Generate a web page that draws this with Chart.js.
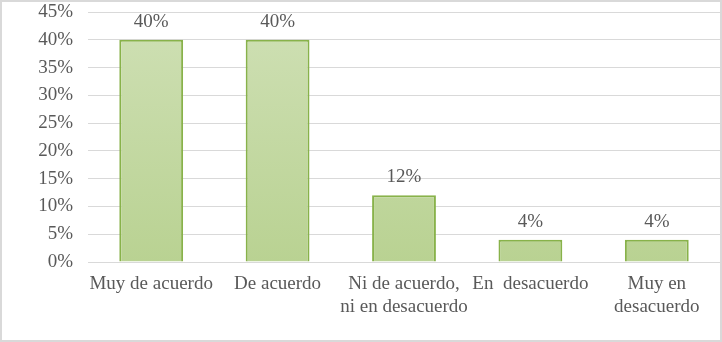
<!DOCTYPE html>
<html>
<head>
<meta charset="utf-8">
<script src="https://cdn.jsdelivr.net/npm/chart.js@4"></script>
<style>
  html, body { margin: 0; padding: 0; background: #fff; }
  #wrap { position: relative; width: 722px; height: 342px; box-sizing: border-box; border: 2px solid #d9d9d9; }
  #chart { display: block; }
</style>
</head>
<body>
<div id="wrap"><canvas id="chart" width="718" height="338"></canvas></div>
<script>
const categories = [
  "Muy de acuerdo",
  "De acuerdo",
  ["Ni de acuerdo,", "ni en desacuerdo"],
  "En  desacuerdo",
  ["Muy en", "desacuerdo"]
];
const values = [40, 40, 12, 4, 4];
const valueLabels = ["40%", "40%", "12%", "4%", "4%"];

const textColor = "#595959";
const fontFamily = "'Liberation Serif', 'Times New Roman', serif";

// draws the % value above each bar
const barLabels = {
  id: "barLabels",
  afterDatasetsDraw(chart) {
    const ctx = chart.ctx;
    const meta = chart.getDatasetMeta(0);
    ctx.save();
    ctx.fillStyle = textColor;
    ctx.font = "19px " + fontFamily;
    ctx.textAlign = "center";
    ctx.textBaseline = "middle";
    meta.data.forEach((bar, i) => {
      ctx.fillText(valueLabels[i], bar.x, bar.y - 18);
    });
    ctx.restore();
  }
};

new Chart(document.getElementById("chart"), {
  type: "bar",
  data: {
    labels: categories,
    datasets: [{
      data: values,
      backgroundColor: (c) => {
        const area = c.chart.chartArea;
        if (!area) return "#c2d89e";
        const g = c.chart.ctx.createLinearGradient(0, area.top, 0, area.bottom);
        g.addColorStop(0, "#cfe0b5");
        g.addColorStop(1, "#b9d292");
        return g;
      },
      borderColor: "#88b24a",
      borderWidth: 2,
      categoryPercentage: 1,
      barPercentage: 0.505
    }]
  },
  options: {
    responsive: false,
    animation: false,
    layout: { padding: 0 },
    plugins: { legend: { display: false }, tooltip: { enabled: false } },
    scales: {
      x: {
        grid: { display: false },
        border: { color: "#d9d9d9", width: 1 },
        ticks: {
          color: textColor,
          font: { family: fontFamily, size: 19, lineHeight: 1.21 },
          padding: 3,
          maxRotation: 0,
          autoSkip: false
        },
        afterFit: (s) => { s.height = 78; s.paddingLeft = 0; s.paddingRight = 0; }
      },
      y: {
        min: 0,
        max: 45,
        grid: { color: "#d9d9d9", drawTicks: false },
        border: { display: false },
        ticks: {
          stepSize: 5,
          color: textColor,
          font: { family: fontFamily, size: 19 },
          padding: 15,
          callback: (v) => v + "%"
        },
        afterFit: (s) => { s.width = 86; s.paddingTop = 10; s.paddingBottom = 0; }
      }
    }
  },
  plugins: [barLabels]
});
</script>
</body>
</html>
